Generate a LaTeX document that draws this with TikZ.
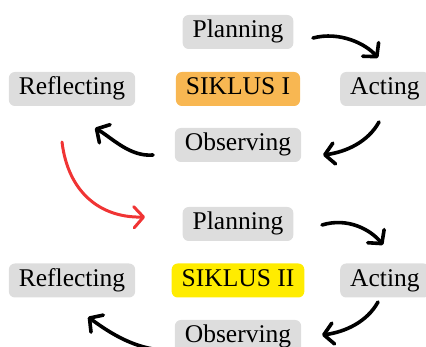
\documentclass[tikz,border=0pt]{standalone}
\usepackage{fontspec}
\setmainfont{Liberation Serif}
\usetikzlibrary{arrows.meta}
\definecolor{stagegray}{RGB}{221,221,221}
\definecolor{cycleorange}{RGB}{248,183,82}
\definecolor{cycleyellow}{RGB}{255,236,0}
\definecolor{linkred}{RGB}{240,52,52}
\tikzset{
  box/.style={rounded corners=6pt, fill=stagegray, inner xsep=10pt, inner ysep=5.5pt,
    text height=17.5pt, text depth=5.5pt,
    font=\fontsize{25.5pt}{30pt}\selectfont},
  stagebox/.style={box},
  cyclebox/.style={box},
  flow/.style={line width=3.6pt, line cap=round, line join=round,
    -{Straight Barb[length=9.5pt, width=21pt, line width=3.6pt, line cap=round, line join=round]}},
  redflow/.style={draw=linkred, line width=3pt, line cap=round, line join=round,
    -{Straight Barb[length=9.5pt, width=21pt, line width=3pt, line cap=round, line join=round]}}
}
\begin{document}
\begin{tikzpicture}[x=1pt, y=-1pt]
\useasboundingbox (0,0) rectangle (426,347);

% first cycle
\node[stagebox] (plan1) at (238,32) {Planning};
\node[stagebox] (refl1) at (72,89) {Reflecting};
\node[cyclebox, fill=cycleorange] (cyc1) at (238,89) {SIKLUS I};
\node[stagebox, anchor=west] (act1) at (340,89) {Acting};
\node[stagebox] (obs1) at (238,145) {Observing};

% second cycle
\node[stagebox] (plan2) at (238,224) {Planning};
\node[stagebox] (refl2) at (72,280.5) {Reflecting};
\node[cyclebox, fill=cycleyellow] (cyc2) at (238,280.5) {SIKLUS II};
\node[stagebox, anchor=west] (act2) at (340,280.5) {Acting};
\node[stagebox] (obs2) at (238,337) {Observing};

% connector end points
\coordinate (p1a) at (313,38);  \coordinate (a1p) at (378,58);
\coordinate (a1o) at (379,122); \coordinate (o1a) at (323,155);
\coordinate (o1r) at (153,155); \coordinate (r1o) at (95,128);
\coordinate (r1p) at (62,142);  \coordinate (p2r) at (145,217);
\coordinate (p2a) at (322,225); \coordinate (a2p) at (383,245);
\coordinate (a2o) at (378,302); \coordinate (o2a) at (322,335);
\coordinate (o2r) at (160,350); \coordinate (r2o) at (88,317);

% first cycle arrows
\draw[flow] (p1a) .. controls (340,31) and (366,44) .. (a1p);
\draw[flow] (a1o) .. controls (368,142) and (346,152) .. (o1a);
\draw[flow] (o1r) .. controls (130,157) and (112,138) .. (r1o);

% link to the second cycle
\draw[redflow] (r1p) .. controls (68,192) and (100,218) .. (p2r);

% second cycle arrows
\draw[flow] (p2a) .. controls (348,217) and (371,230) .. (a2p);
\draw[flow] (a2o) .. controls (367,322) and (345,332) .. (o2a);
\draw[flow] (o2r) .. controls (130,347) and (106,330) .. (r2o);
\end{tikzpicture}
\end{document}
